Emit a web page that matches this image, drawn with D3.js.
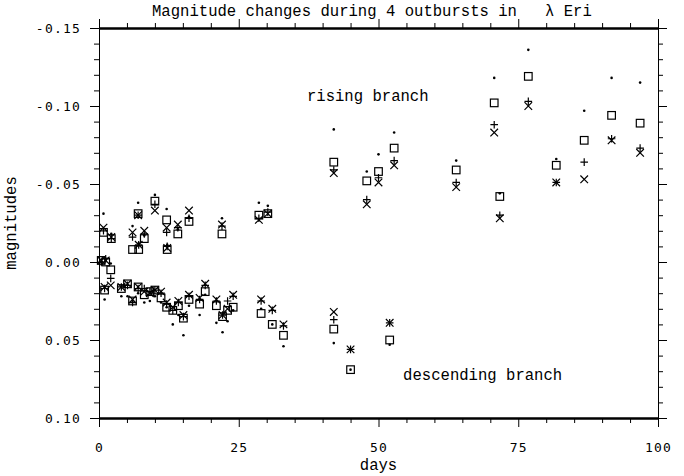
<!DOCTYPE html>
<html>
<head>
<meta charset="utf-8">
<script src="https://cdn.jsdelivr.net/npm/d3@7"></script>
<style>
body { margin: 0; background: #fff; }
.mono { font-family: "Liberation Mono", monospace; font-size: 15.6px; fill: #000; }
.tick text { font-family: "DejaVu Sans Mono", monospace; font-size: 13px; letter-spacing: 1.2px; fill: #000; }
.tick line { stroke: #000; }
</style>
</head>
<body>
<div id="chart"></div>
<script>
// epochs: first the rising branch, then the descending one
var days = [0.8, 2.2, 6.0, 7.0, 7.1, 8.1, 10.0, 12.1, 12.2, 14.1, 16.1, 22.0, 28.6, 30.2,
	    42.0, 47.9, 50.0, 52.8, 63.9, 70.7, 71.7, 76.8, 81.8, 86.8, 91.7, 96.8,
	    0.4, 1.2, 1.0, 2.1, 4.0, 5.1, 6.0, 7.0, 8.1, 9.1, 10.0, 11.1, 12.1, 13.2,
	    14.2, 15.1, 16.1, 18.0, 19.0, 21.0, 22.1, 23.0, 24.0, 29.0, 31.0, 33.0,
	    42.0, 45.0, 52.0];
var dotMag = [-0.031, -0.018, -0.023, -0.038, -0.012, -0.017, -0.043, -0.034, -0.011, -0.021, -0.029, -0.028, -0.038, -0.036,
	      -0.085, -0.058, -0.069, -0.083, -0.065, -0.118, -0.044, -0.136, -0.066, -0.097, -0.118, -0.115,
	      0.000, -0.001, 0.024, 0.001, 0.022, 0.022, 0.025, 0.020, 0.026, 0.025, 0.022, 0.026, 0.029, 0.040,
	      0.034, 0.047, 0.028, 0.034, 0.021, 0.039, 0.045, 0.038, 0.031, 0.030, 0.040, 0.054,
	      0.052, 0.069, 0.053];
var squareMag = [-0.019, -0.015, -0.008, -0.031, -0.008, -0.015, -0.039, -0.027, -0.008, -0.018, -0.026, -0.018, -0.030, -0.031,
		 -0.064, -0.052, -0.058, -0.073, -0.059, -0.102, -0.042, -0.119, -0.062, -0.078, -0.094, -0.089,
		 -0.001, 0.000, 0.018, 0.005, 0.017, 0.014, 0.025, 0.016, 0.021, 0.019, 0.018, 0.023, 0.029, 0.031,
		 0.028, 0.036, 0.024, 0.027, 0.019, 0.028, 0.035, 0.031, 0.029, 0.033, 0.040, 0.047,
		 0.043, 0.069, 0.050];
var plusMag = [-0.020, -0.015, -0.016, -0.030, -0.011, -0.018, -0.037, -0.019, -0.010, -0.022, -0.028, -0.023, -0.028, -0.032,
	       -0.059, -0.040, -0.054, -0.065, -0.051, -0.088, -0.030, -0.103, -0.051, -0.064, -0.079, -0.073,
	       0.000, -0.002, 0.017, 0.0105, 0.016, 0.015, 0.026, 0.017, 0.017, 0.019, 0.018, 0.020, 0.027, 0.031,
	       0.026, 0.035, 0.022, 0.024, 0.015, 0.025, 0.034, 0.025, 0.022, 0.025, 0.031, 0.041,
	       0.037, 0.056, 0.039];
var crossMag = [-0.022, -0.016, -0.019, -0.030, -0.011, -0.020, -0.033, -0.022, -0.009, -0.024, -0.033, -0.024, -0.027, -0.031,
		-0.057, -0.037, -0.051, -0.062, -0.048, -0.083, -0.028, -0.100, -0.051, -0.053, -0.078, -0.070,
		-0.001, -0.001, 0.016, 0.015, 0.016, 0.014, 0.024, 0.016, 0.019, 0.020, 0.018, 0.019, 0.026, 0.029,
		0.025, 0.034, 0.021, 0.023, 0.014, 0.024, 0.034, 0.030, 0.021, 0.024, 0.030, 0.040,
		0.032, 0.056, 0.039];

var dayTicks = [0, 25, 50, 75, 100];
var dayMinor = [5, 10, 15, 20, 30, 35, 40, 45, 55, 60, 65, 70, 80, 85, 90, 95];
var magTicks = [-0.15, -0.10, -0.05, 0.00, 0.05, 0.10];
var magMinor = [-0.14, -0.13, -0.12, -0.11, -0.09, -0.08, -0.07, -0.06, -0.04, -0.03, -0.02, -0.01,
		0.01, 0.02, 0.03, 0.04, 0.06, 0.07, 0.08, 0.09];

var W = 684, H = 476;
var svg = d3.select('#chart').append('svg').attr('width', W).attr('height', H);

var x = d3.scaleLinear().domain([0, 100]).range([99, 658]);
var y = d3.scaleLinear().domain([-0.15, 0.10]).range([28, 418]);
var magFmt = function(d) { return d3.format('.2f')(d).replace('\u2212', '-'); };
var dayFmt = d3.format('d');

function axis(gen, tr, vals, size, labels, width) {
    var g = svg.append('g').attr('transform', tr)
	.call(gen.tickValues(vals).tickSize(size).tickSizeOuter(0)
	      .tickPadding(9).tickFormat(labels || ''));
    g.select('.domain').attr('stroke', '#000').attr('stroke-width', width);
    return g;
}
// minor ticks first, major ticks (and frame) over them
axis(d3.axisBottom(x), 'translate(0,418)', dayMinor, 5, null, 2);
axis(d3.axisTop(x), 'translate(0,28)', dayMinor, 5, null, 2);
axis(d3.axisLeft(y), 'translate(99,0)', magMinor, 5, null, 1);
axis(d3.axisRight(y), 'translate(658,0)', magMinor, 5, null, 1);
var bx = axis(d3.axisBottom(x), 'translate(0,418)', dayTicks, 9, dayFmt, 2);
bx.selectAll('.tick text').attr('dy', '1.2em');
axis(d3.axisTop(x), 'translate(0,28)', dayTicks, 9, null, 2);
axis(d3.axisLeft(y), 'translate(99,0)', magTicks, 9, magFmt, 1);
axis(d3.axisRight(y), 'translate(658,0)', magTicks, 9, null, 1);

var pts = days.map(function(d, i) {
    return { day: d, dot: dotMag[i], sq: squareMag[i], plus: plusMag[i], cross: crossMag[i] };
});
var m = svg.append('g').attr('fill', 'none').attr('stroke', '#000').attr('stroke-width', 1.2);
var s = 3.8;
m.selectAll('rect').data(pts).enter().append('rect')
    .attr('x', function(d) { return x(d.day) - s })
    .attr('y', function(d) { return y(d.sq) - s })
    .attr('width', 2 * s).attr('height', 2 * s);
m.selectAll('path.plus').data(pts).enter().append('path')
    .attr('class', 'plus')
    .attr('d', function(d) {
	var px = x(d.day), py = y(d.plus);
	return 'M' + (px - s) + ',' + py + 'H' + (px + s) + 'M' + px + ',' + (py - s) + 'V' + (py + s);
    });
m.selectAll('path.cross').data(pts).enter().append('path')
    .attr('class', 'cross')
    .attr('d', function(d) {
	var px = x(d.day), py = y(d.cross);
	return 'M' + (px - s) + ',' + (py - s) + 'L' + (px + s) + ',' + (py + s) +
	    'M' + (px - s) + ',' + (py + s) + 'L' + (px + s) + ',' + (py - s);
    });
svg.append('g').selectAll('circle').data(pts).enter().append('circle')
    .attr('cx', function(d) { return x(d.day) })
    .attr('cy', function(d) { return y(d.dot) })
    .attr('r', 1.3).attr('fill', '#000');

var title = svg.append('text').attr('class', 'mono').attr('x', 152).attr('y', 16);
title.append('tspan').text('Magnitude changes during 4 outbursts in');
title.append('tspan').attr('x', 545).text('\u03bb Eri');

svg.append('text').attr('class', 'mono').attr('x', x(37.2)).attr('y', y(-0.1035)).text('rising branch');
svg.append('text').attr('class', 'mono').attr('x', x(54.4)).attr('y', y(0.0755)).text('descending branch');
svg.append('text').attr('class', 'mono').attr('text-anchor', 'middle')
    .attr('x', x(50)).attr('y', 470).text('days');
svg.append('text').attr('class', 'mono').attr('text-anchor', 'middle')
    .attr('transform', 'translate(16,' + y(-0.025) + ') rotate(-90)').text('magnitudes');
</script>
</body>
</html>
